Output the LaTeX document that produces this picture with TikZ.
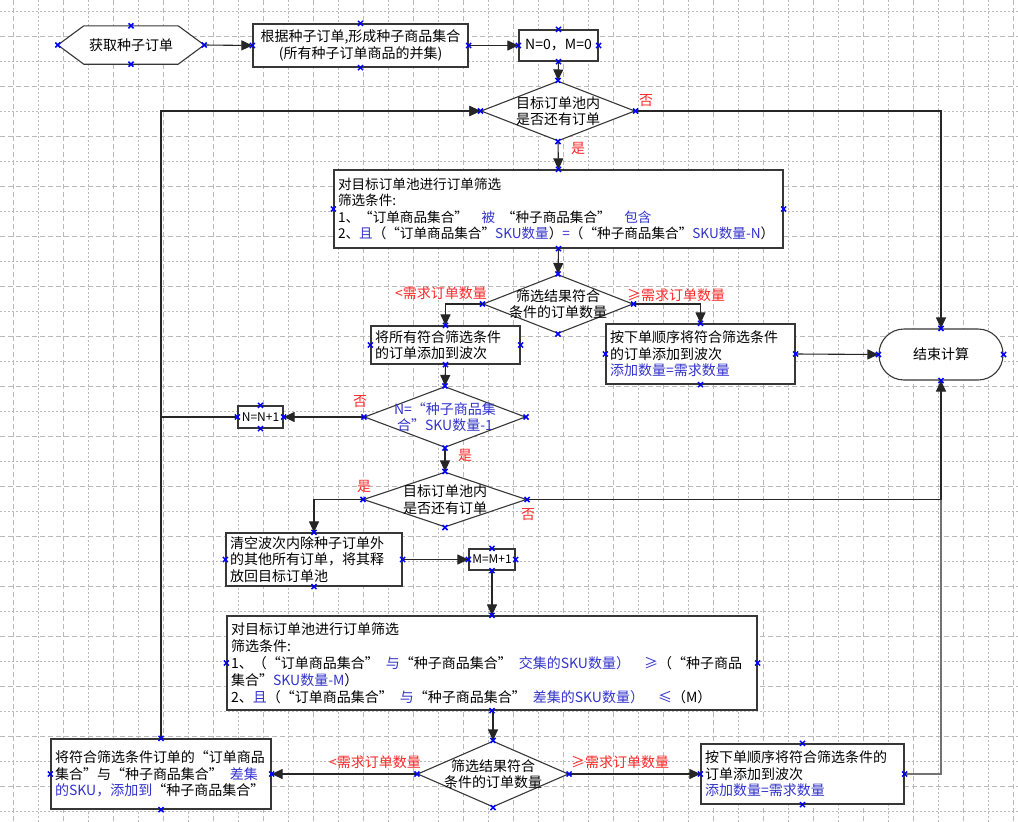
\documentclass[tikz,border=0pt]{standalone}
\usepackage{fontspec}
\setmainfont{Noto Sans CJK SC}
\usetikzlibrary{arrows.meta,calc,shapes.geometric}
\definecolor{tb}{RGB}{51,51,204}
\definecolor{tr}{RGB}{255,40,40}
\definecolor{gridc}{RGB}{185,185,185}
\definecolor{edge}{RGB}{55,55,55}
\begin{document}
\begin{tikzpicture}[x=1pt,y=-1pt,
  font=\fontsize{14}{16.5}\selectfont,
  box/.style={draw=edge,line width=1.2pt,fill=white,inner xsep=4pt,inner ysep=0pt,align=left},
  cbox/.style={draw=edge,line width=1.2pt,fill=white,inner sep=0pt,align=center},
  dshape/.style={diamond,draw=edge,line width=1.1pt,fill=white,inner sep=0pt},
  conn/.style={draw=black!85,line width=1.1pt},
  arr/.style={conn,-{Triangle[length=11pt,width=10pt]}},
  lab/.style={text=tr,inner sep=0pt},
  mk/.style={draw=blue,line width=1.5pt},
  gdash/.style={draw=gridc,line width=0.8pt,dash pattern=on 5pt off 3pt},
  gdot/.style={draw=gridc,line width=0.8pt,dash pattern=on 2pt off 2pt}
]
\useasboundingbox (0,0) rectangle (1018,822);
\fill[white] (0,0) rectangle (1018,822);
% grid
\foreach \x in {13,63,...,1013} \draw[gdash] (\x,0) -- (\x,822);
\foreach \x in {38,88,...,1013} \draw[gdot] (\x,0) -- (\x,822);
\foreach \y in {36,86,...,822} \draw[gdash] (0,\y) -- (1018,\y);
\foreach \y in {11,61,...,822} \draw[gdot] (0,\y) -- (1018,\y);

% hexagon start
\node[minimum width=146pt,minimum height=38pt,inner sep=0pt] (hex) at (131,45) {};
\draw[draw=edge,line width=1.1pt,fill=white] (hex.west) -- ([xshift=26pt]hex.north west) -- ([xshift=-26pt]hex.north east) -- (hex.east) -- ([xshift=-26pt]hex.south east) -- ([xshift=26pt]hex.south west) -- cycle;
\node[inner sep=0pt] (hext) at (hex) {获取种子订单};

\node[cbox,minimum width=215pt,minimum height=43pt] (r2) at (360.5,45.5) {根据种子订单,形成种子商品集合\\(所有种子订单商品的并集)};
\node[cbox,minimum width=79pt,minimum height=31pt] (r3) at (558.5,45.5) {N=0，M=0};

\node[dshape,minimum width=154pt,minimum height=60pt] (d1) at (558,111) {};
\node[align=center,inner sep=0pt] (d1t) at (d1) {目标订单池内\\是否还有订单};

\node[box,text width=441pt,minimum height=78pt,font=\fontsize{13.6}{16.5}\selectfont] (r4) at (558.5,209) {对目标订单池进行订单筛选\\
筛选条件:\\
1、“订单商品集合”\hspace{1em}{\color{tb}被}\hspace{0.5em}“种子商品集合”\hspace{1em}{\color{tb}包含}\\
\mbox{2、{\color{tb}且}（“订单商品集合”{\color{tb}SKU数量}）{\color{tb}=}（“种子商品集合”{\color{tb}SKU数量-N}）}};

\node[dshape,minimum width=150pt,minimum height=59pt] (d2) at (558,304) {};
\node[align=center,inner sep=0pt] (d2t) at (d2) {筛选结果符合\\条件的订单数量};

\node[box,text width=141pt,minimum height=38pt] (r5) at (445.5,345) {将所有符合筛选条件\\的订单添加到波次};
\node[box,text width=181pt,minimum height=60pt] (r6) at (700.5,354) {按下单顺序将符合筛选条件\\的订单添加到波次\\{\color{tb}添加数量=需求数量}};

\node[draw=edge,line width=1.1pt,fill=white,rounded corners=25pt,minimum width=124pt,minimum height=51pt,inner sep=0pt] (term) at (941,354.5) {结束计算};

\node[dshape,minimum width=161pt,minimum height=61pt] (d3) at (445,417) {};
\node[align=center,inner sep=0pt,text=tb] (d3t) at (d3) {N=“种子商品集\\合”SKU数量-1};

\node[cbox,minimum width=45pt,minimum height=22pt,font=\fontsize{12}{14}\selectfont] (nn) at (260.5,417) {N=N+1};

\node[dshape,minimum width=163pt,minimum height=55pt] (d4) at (445,499.5) {};
\node[align=center,inner sep=0pt] (d4t) at (d4) {目标订单池内\\是否还有订单};

\node[box,text width=168pt,minimum height=53pt] (r7) at (314,559.5) {清空波次内除种子订单外\\的其他所有订单，将其释\\放回目标订单池};
\node[cbox,minimum width=46pt,minimum height=21pt,font=\fontsize{12}{14}\selectfont] (mm) at (492,559.5) {M=M+1};

\node[box,text width=522pt,minimum height=94pt,font=\fontsize{14}{17}\selectfont] (r8) at (492,663) {对目标订单池进行订单筛选\\
筛选条件:\\
1、（“订单商品集合”\hspace{0.5em}{\color{tb}与}“种子商品集合”\hspace{0.5em}{\color{tb}交集的SKU数量）}\hspace{1em}{\color{tb}≥}（“种子商品\\
集合”{\color{tb}SKU数量-M}）\\
2、{\color{tb}且}（“订单商品集合”\hspace{0.5em}{\color{tb}与}“种子商品集合”\hspace{0.5em}{\color{tb}差集的SKU数量）}\hspace{1em}{\color{tb}≤}（M）};

\node[dshape,minimum width=151pt,minimum height=66pt] (d5) at (493,774) {};
\node[align=center,inner sep=0pt] (d5t) at (d5) {筛选结果符合\\条件的订单数量};

\node[box,text width=212pt,minimum height=70pt] (bl) at (161,774) {将符合筛选条件订单的“订单商品\\集合”与“种子商品集合”\hspace{0.5em}{\color{tb}差集}\\{\color{tb}的SKU，添加到}“种子商品集合”};
\node[box,text width=195pt,minimum height=60pt] (r9) at (802.5,774) {按下单顺序将符合筛选条件的\\订单添加到波次\\{\color{tb}添加数量=需求数量}};

% connectors
\draw[arr] (hex.east) -- (r2.west);
\draw[arr] (r2.east) -- (r3.west);
\draw[arr] (r3.south) -- (d1.north);
\draw[arr] (d1.south) -- (r4.north);
\draw[arr] (d1.east) -| (term.north);
\draw[arr] (r4.south) -- (d2.north);
\draw[arr] (d2.west) -| (r5.north);
\draw[arr] (d2.east) -| (r6.north);
\draw[arr] (r6.east) -- (term.west);
\draw[arr] (r5.south) -- (d3.north);
\draw[arr] (d3.west) -- (nn.east);
\draw[arr] (nn.west) -- (bl.north |- nn.west) |- (d1.west);
\draw[arr] (bl.north) |- (d1.west);
\draw[arr] (d3.south) -- (d4.north);
\draw[arr] (d4.west) -| (r7.north);
\draw[arr] (d4.east) -| (term.south);
\draw[arr] (r7.east) -- (mm.west);
\draw[arr] (mm.south) -- (r8.north -| mm.south);
\draw[arr] (r8.south -| d5.north) -- (d5.north);
\draw[arr] (d5.west) -- (bl.east);
\draw[arr] (d5.east) -- (r9.west);
\draw[conn,draw=black!55] (r9.east) -| (d4.east -| term.south);

% labels
\node[lab] (l1) at (646,101) {否};
\node[lab] (l2) at (578,148) {是};
\node[lab] (l3) at (441,293) {<需求订单数量};
\node[lab] (l4) at (676,295) {≥需求订单数量};
\node[lab] (l5) at (360,402) {否};
\node[lab] (l6) at (465,455) {是};
\node[lab] (l7) at (364,486) {是};
\node[lab] (l8) at (528,515) {否};
\node[lab] (l9) at (375,762) {<需求订单数量};
\node[lab] (l10) at (620,762) {≥需求订单数量};

% connection markers
\foreach \n in {hex,r2,r3,d1,r4,d2,r5,r6,term,d3,nn,d4,r7,mm,r8,d5,bl,r9}
  \foreach \a in {north,south,east,west}
    \draw[mk] (\n.\a) ++(-2.5,-2.5) -- ++(5,5) ++(-5,0) -- ++(5,-5);
\end{tikzpicture}
\end{document}
